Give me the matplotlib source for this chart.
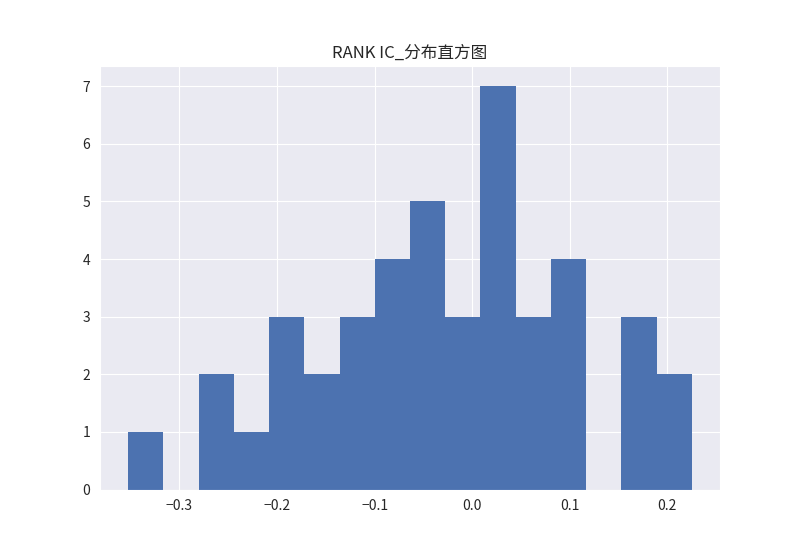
import numpy as np
import matplotlib
matplotlib.use('Agg')
import matplotlib.pyplot as plt
import seaborn as sns

# границы корзин и частоты
bin_edges = [-0.3525 + 0.0361 * i for i in range(17)]
counts = [1, 0, 2, 1, 3, 2, 3, 4, 5, 3, 7, 3, 4, 0, 3, 2]

sns.set_style('darkgrid')
plt.rcParams['font.family'] = ['Noto Sans CJK SC', 'DejaVu Sans']
plt.rcParams['axes.unicode_minus'] = True

fig = plt.figure(figsize=(8, 5.5), dpi=100)
ax = fig.add_subplot(111)
# без белой обводки, как в оригинале
ax.hist(bin_edges[:-1], bins=bin_edges, weights=counts, color='#4c72b0',
        linewidth=0)
ax.set_title('RANK IC_分布直方图', fontsize=12)
ax.set_xticks([-0.3, -0.2, -0.1, 0.0, 0.1, 0.2])
fig.savefig('out.png', dpi=100)
